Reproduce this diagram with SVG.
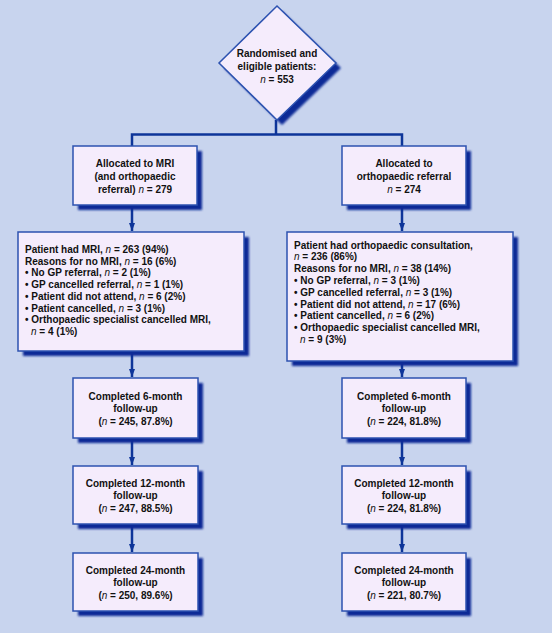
<svg xmlns="http://www.w3.org/2000/svg" width="552" height="633" viewBox="0 0 552 633">
<style>
.bg{fill:#c8d4ee}
.box{fill:#f5ecfc;stroke:#2c52b0;stroke-width:1.5}
.sh{fill:#0b2c96;filter:url(#blur)}
.ln{fill:none;stroke:#0e3599;stroke-width:2.5}
text{font-family:"Liberation Sans",Arial,sans-serif;font-size:10px;font-weight:bold;fill:#111}
.c{text-anchor:middle}
.i{font-style:italic;font-weight:normal}
</style>
<defs>
<filter id="blur" x="-10%" y="-10%" width="120%" height="120%"><feGaussianBlur stdDeviation="1"/></filter>
<marker id="ah" viewBox="0 0 8 8" refX="8" refY="4" markerWidth="8" markerHeight="8" markerUnits="userSpaceOnUse" orient="auto"><path d="M0,1 L8,4 L0,7 Z" fill="#0e3599"/></marker>
</defs>
<rect class="bg" x="0" y="0" width="552" height="633"/>
<g id="connectors">
<path class="ln" d="M276,120 V134.5"/>
<path class="ln" d="M132,146 V134.5 H402 V146"/>
<path class="ln" d="M132,205 V231" marker-end="url(#ah)"/>
<path class="ln" d="M402,205 V231" marker-end="url(#ah)"/>
<path class="ln" d="M132,351 V377" marker-end="url(#ah)"/>
<path class="ln" d="M402,361 V377" marker-end="url(#ah)"/>
<path class="ln" d="M132,438 V465" marker-end="url(#ah)"/>
<path class="ln" d="M402,438 V465" marker-end="url(#ah)"/>
<path class="ln" d="M132,524 V552" marker-end="url(#ah)"/>
<path class="ln" d="M402,524 V552" marker-end="url(#ah)"/>
</g>
<g id="randomised">
<polygon class="sh" points="282,11 341,68 282,125 224,68"/>
<polygon class="box" points="277,6 336,63 277,120 219,63"/>
<text class="c" x="277" y="57">Randomised and</text>
<text class="c" x="277" y="70">eligible patients:</text>
<text class="c" x="277" y="83"><tspan class="i">n</tspan> = 553</text>
</g>
<g id="alloc-mri">
<rect class="sh" x="78" y="151" width="124" height="59"/>
<rect class="box" x="73" y="146" width="124" height="59"/>
<text class="c" x="135" y="167">Allocated to MRI</text>
<text class="c" x="135" y="180">(and orthopaedic</text>
<text class="c" x="135" y="193">referral) <tspan class="i">n</tspan> = 279</text>
</g>
<g id="alloc-ortho">
<rect class="sh" x="347" y="151" width="124" height="59"/>
<rect class="box" x="342" y="146" width="124" height="59"/>
<text class="c" x="404" y="167">Allocated to</text>
<text class="c" x="404" y="180">orthopaedic referral</text>
<text class="c" x="404" y="193"><tspan class="i">n</tspan> = 274</text>
</g>
<g id="mri-details">
<rect class="sh" x="23" y="237" width="226" height="119"/>
<rect class="box" x="18" y="232" width="226" height="119"/>
<text x="25" y="253">Patient had MRI, <tspan class="i">n</tspan> = 263 (94%)</text>
<text x="25" y="264.7">Reasons for no MRI, <tspan class="i">n</tspan> = 16 (6%)</text>
<text x="25" y="276.4">• No GP referral,  <tspan class="i">n</tspan> = 2 (1%)</text>
<text x="25" y="288.1">• GP cancelled referral, <tspan class="i">n</tspan> = 1 (1%)</text>
<text x="25" y="299.8">• Patient did not attend, <tspan class="i">n</tspan> = 6 (2%)</text>
<text x="25" y="311.5">• Patient cancelled, <tspan class="i">n</tspan> = 3 (1%)</text>
<text x="25" y="323.2">• Orthopaedic specialist cancelled MRI,</text>
<text x="31" y="334.9"><tspan class="i">n</tspan> = 4 (1%)</text>
</g>
<g id="ortho-details">
<rect class="sh" x="292" y="237" width="226" height="129"/>
<rect class="box" x="287" y="232" width="226" height="129"/>
<text x="294" y="248.5">Patient had orthopaedic consultation,</text>
<text x="294" y="260.3"><tspan class="i">n</tspan> = 236 (86%)</text>
<text x="294" y="272.1">Reasons for no MRI, <tspan class="i">n</tspan> = 38 (14%)</text>
<text x="294" y="283.9">• No GP referral,  <tspan class="i">n</tspan> = 3 (1%)</text>
<text x="294" y="295.7">• GP cancelled referral, <tspan class="i">n</tspan> = 3 (1%)</text>
<text x="294" y="307.5">• Patient did not attend, <tspan class="i">n</tspan> = 17 (6%)</text>
<text x="294" y="319.3">• Patient cancelled, <tspan class="i">n</tspan> = 6 (2%)</text>
<text x="294" y="331.1">• Orthopaedic specialist cancelled MRI,</text>
<text x="300" y="342.9"><tspan class="i">n</tspan> = 9 (3%)</text>
</g>
<g id="mri-6m">
<rect class="sh" x="78" y="383" width="125" height="60"/>
<rect class="box" x="73" y="378" width="125" height="60"/>
<text class="c" x="135.5" y="399.5">Completed 6-month</text>
<text class="c" x="135.5" y="412">follow-up</text>
<text class="c" x="135.5" y="424.5">(<tspan class="i">n</tspan> = 245, 87.8%)</text>
</g>
<g id="mri-12m">
<rect class="sh" x="78" y="471" width="125" height="58"/>
<rect class="box" x="73" y="466" width="125" height="58"/>
<text class="c" x="135.5" y="486.5">Completed 12-month</text>
<text class="c" x="135.5" y="499">follow-up</text>
<text class="c" x="135.5" y="511.5">(<tspan class="i">n</tspan> = 247, 88.5%)</text>
</g>
<g id="mri-24m">
<rect class="sh" x="78" y="558" width="125" height="58"/>
<rect class="box" x="73" y="553" width="125" height="58"/>
<text class="c" x="135.5" y="573.5">Completed 24-month</text>
<text class="c" x="135.5" y="586">follow-up</text>
<text class="c" x="135.5" y="598.5">(<tspan class="i">n</tspan> = 250, 89.6%)</text>
</g>
<g id="ortho-6m">
<rect class="sh" x="347" y="383" width="124" height="60"/>
<rect class="box" x="342" y="378" width="124" height="60"/>
<text class="c" x="404" y="399.5">Completed 6-month</text>
<text class="c" x="404" y="412">follow-up</text>
<text class="c" x="404" y="424.5">(<tspan class="i">n</tspan> = 224, 81.8%)</text>
</g>
<g id="ortho-12m">
<rect class="sh" x="347" y="471" width="124" height="58"/>
<rect class="box" x="342" y="466" width="124" height="58"/>
<text class="c" x="404" y="486.5">Completed 12-month</text>
<text class="c" x="404" y="499">follow-up</text>
<text class="c" x="404" y="511.5">(<tspan class="i">n</tspan> = 224, 81.8%)</text>
</g>
<g id="ortho-24m">
<rect class="sh" x="347" y="558" width="124" height="58"/>
<rect class="box" x="342" y="553" width="124" height="58"/>
<text class="c" x="404" y="573.5">Completed 24-month</text>
<text class="c" x="404" y="586">follow-up</text>
<text class="c" x="404" y="598.5">(<tspan class="i">n</tspan> = 221, 80.7%)</text>
</g>
</svg>
